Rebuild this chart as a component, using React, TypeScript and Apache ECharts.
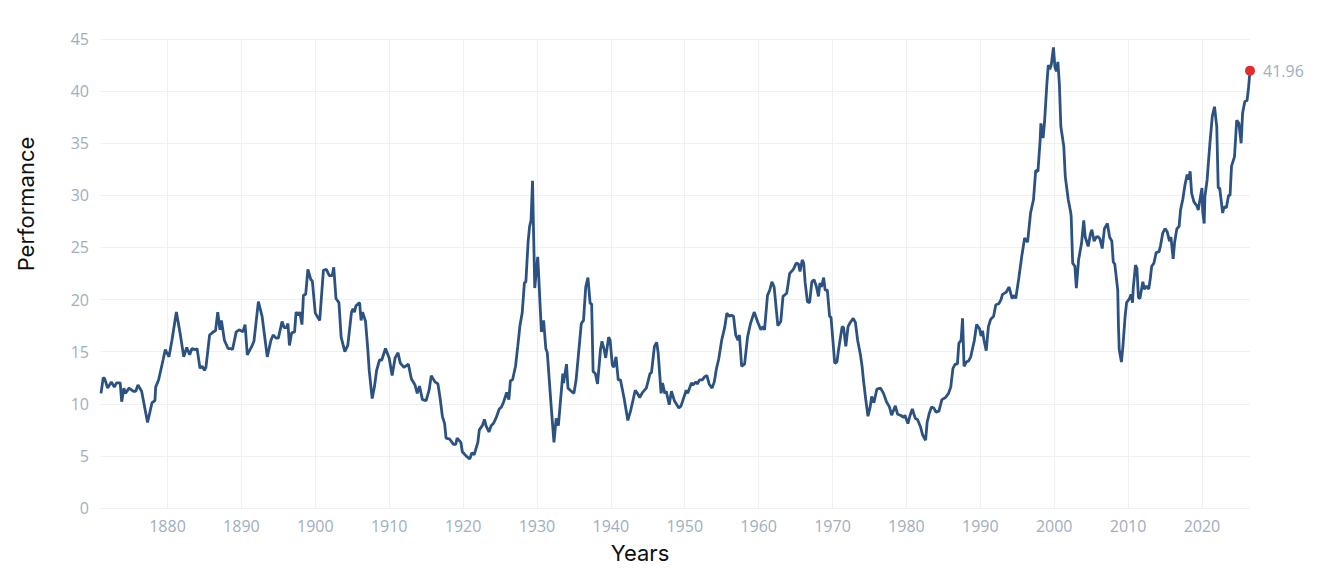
import React, { useEffect, useRef } from "react";
import * as echarts from "echarts";

// Year positions (fractional years) and matching performance values
const years: number[] = [
  1871.0, 1871.3, 1871.5, 1871.9, 1872.4, 1872.8, 1873.1, 1873.6, 1873.8, 1874.1,
  1874.3, 1874.8, 1875.4, 1875.7, 1876.0, 1876.5, 1877.3, 1877.9, 1878.3, 1878.4,
  1878.8, 1879.4, 1879.7, 1880.2, 1880.6, 1881.2, 1881.7, 1882.2, 1882.6, 1883.0,
  1883.3, 1883.8, 1884.0, 1884.4, 1884.7, 1885.0, 1885.2, 1885.7, 1886.2, 1886.5,
  1886.8, 1887.1, 1887.3, 1887.7, 1888.2, 1888.6, 1888.8, 1889.3, 1889.7, 1890.2,
  1890.5, 1890.8, 1891.4, 1891.7, 1892.3, 1892.8, 1893.5, 1894.0, 1894.3, 1894.7,
  1895.0, 1895.5, 1895.8, 1896.1, 1896.3, 1896.5, 1896.8, 1897.2, 1897.4, 1897.7,
  1897.9, 1898.2, 1898.4, 1898.7, 1899.0, 1899.4, 1899.6, 1900.0, 1900.6, 1901.1,
  1901.5, 1901.9, 1902.3, 1902.5, 1902.8, 1903.2, 1903.5, 1904.0, 1904.4, 1904.9,
  1905.1, 1905.3, 1905.5, 1906.0, 1906.2, 1906.4, 1906.8, 1907.1, 1907.3, 1907.7,
  1908.0, 1908.3, 1908.7, 1909.0, 1909.5, 1910.0, 1910.4, 1910.8, 1911.2, 1911.5,
  1912.0, 1912.6, 1913.0, 1913.5, 1913.8, 1914.1, 1914.5, 1915.0, 1915.4, 1915.7,
  1916.2, 1916.6, 1916.9, 1917.2, 1917.5, 1917.7, 1918.2, 1918.7, 1919.0, 1919.2,
  1919.7, 1919.9, 1920.4, 1920.9, 1921.2, 1921.5, 1922.0, 1922.2, 1922.6, 1922.9,
  1923.1, 1923.5, 1923.8, 1924.1, 1924.5, 1924.9, 1925.2, 1925.5, 1925.9, 1926.2,
  1926.4, 1926.7, 1927.1, 1927.4, 1927.7, 1928.0, 1928.3, 1928.5, 1928.8, 1929.0,
  1929.2, 1929.4, 1929.7, 1930.1, 1930.2, 1930.6, 1930.9, 1931.2, 1931.4, 1931.9,
  1932.3, 1932.6, 1932.9, 1933.5, 1933.6, 1934.0, 1934.2, 1934.5, 1935.0, 1935.3,
  1936.0, 1936.3, 1936.6, 1936.9, 1937.2, 1937.4, 1937.6, 1937.9, 1938.2, 1938.6,
  1938.8, 1939.1, 1939.3, 1939.7, 1939.9, 1940.2, 1940.4, 1940.7, 1941.0, 1941.3,
  1941.8, 1942.3, 1942.7, 1943.3, 1943.6, 1943.9, 1944.3, 1944.8, 1945.3, 1945.5,
  1945.9, 1946.2, 1946.4, 1946.8, 1947.0, 1947.3, 1947.5, 1947.9, 1948.2, 1948.6,
  1949.2, 1949.5, 1950.2, 1950.4, 1950.9, 1951.1, 1951.5, 1951.7, 1952.0, 1952.4,
  1952.7, 1953.0, 1953.3, 1953.7, 1954.0, 1954.3, 1954.6, 1955.0, 1955.4, 1955.7,
  1956.0, 1956.3, 1956.6, 1956.9, 1957.2, 1957.4, 1957.7, 1958.1, 1958.5, 1958.9,
  1959.4, 1959.9, 1960.3, 1960.6, 1960.8, 1961.2, 1961.5, 1961.8, 1962.1, 1962.6,
  1963.0, 1963.3, 1963.8, 1964.2, 1964.7, 1965.1, 1965.4, 1965.6, 1965.9, 1966.1,
  1966.3, 1966.6, 1966.9, 1967.2, 1967.5, 1967.8, 1968.1, 1968.3, 1968.5, 1968.8,
  1969.0, 1969.3, 1969.6, 1969.8, 1970.3, 1970.6, 1970.8, 1971.3, 1971.5, 1971.8,
  1972.1, 1972.4, 1972.8, 1973.1, 1973.4, 1973.8, 1974.0, 1974.2, 1974.5, 1974.8,
  1975.1, 1975.3, 1975.6, 1976.0, 1976.5, 1976.9, 1977.3, 1977.7, 1978.0, 1978.5,
  1978.8, 1979.2, 1979.6, 1979.8, 1980.2, 1980.5, 1980.8, 1981.2, 1981.5, 1981.9,
  1982.2, 1982.6, 1982.8, 1983.1, 1983.4, 1983.7, 1984.0, 1984.4, 1984.8, 1985.3,
  1985.7, 1986.0, 1986.3, 1986.6, 1986.9, 1987.1, 1987.4, 1987.6, 1987.8, 1988.1,
  1988.4, 1988.7, 1989.2, 1989.5, 1989.9, 1990.1, 1990.3, 1990.5, 1990.8, 1991.1,
  1991.4, 1991.8, 1992.1, 1992.5, 1992.8, 1993.0, 1993.5, 1993.9, 1994.3, 1994.6,
  1994.8, 1995.2, 1995.6, 1996.0, 1996.4, 1996.8, 1997.2, 1997.5, 1997.8, 1998.1,
  1998.2, 1998.5, 1998.7, 1999.0, 1999.2, 1999.4, 1999.6, 1999.9, 2000.1, 2000.3,
  2000.5, 2000.7, 2000.9, 2001.3, 2001.5, 2001.9, 2002.2, 2002.3, 2002.5, 2002.8,
  2003.0, 2003.3, 2003.7, 2004.0, 2004.2, 2004.6, 2004.9, 2005.1, 2005.4, 2005.7,
  2006.0, 2006.2, 2006.5, 2006.8, 2007.2, 2007.5, 2007.8, 2008.0, 2008.2, 2008.6,
  2008.7, 2008.8, 2009.1, 2009.3, 2009.6, 2009.8, 2010.2, 2010.4, 2010.6, 2010.7,
  2011.0, 2011.2, 2011.4, 2011.6, 2012.0, 2012.2, 2012.5, 2012.8, 2013.0, 2013.2,
  2013.5, 2013.8, 2014.2, 2014.4, 2014.7, 2015.0, 2015.3, 2015.6, 2015.8, 2016.1,
  2016.3, 2016.6, 2016.9, 2017.1, 2017.4, 2017.7, 2018.0, 2018.2, 2018.4, 2018.6,
  2018.9, 2019.3, 2019.5, 2019.8, 2020.0, 2020.1, 2020.3, 2020.4, 2020.7, 2020.9,
  2021.1, 2021.4, 2021.7, 2022.0, 2022.2, 2022.4, 2022.8, 2023.0, 2023.3, 2023.6,
  2023.8, 2024.0, 2024.4, 2024.7, 2025.0, 2025.3, 2025.5, 2025.8, 2026.1, 2026.3,
  2026.5,
];

const performance: number[] = [
  11.0, 12.5, 12.4, 11.5, 12.1, 11.6, 12.0, 12.0, 10.2, 11.5,
  11.0, 11.5, 11.2, 11.2, 11.8, 11.2, 8.2, 10.1, 10.3, 11.6,
  12.3, 14.2, 15.2, 14.5, 16.1, 18.8, 16.8, 14.5, 15.4, 14.7,
  15.3, 15.2, 15.3, 13.4, 13.6, 13.2, 13.5, 16.6, 16.9, 17.0,
  18.8, 17.1, 18.0, 16.1, 15.3, 15.3, 15.2, 16.9, 17.1, 16.9,
  17.6, 14.7, 15.5, 16.0, 19.8, 18.4, 14.5, 16.1, 16.6, 16.3,
  16.3, 17.9, 17.3, 17.3, 17.7, 15.6, 16.8, 16.9, 18.8, 18.5,
  18.8, 17.6, 20.4, 20.5, 22.9, 21.9, 21.8, 18.7, 18.0, 22.8,
  22.9, 22.3, 22.3, 23.1, 20.1, 19.7, 16.4, 15.0, 15.6, 18.8,
  19.1, 18.8, 19.4, 19.7, 18.0, 18.8, 17.9, 15.3, 13.2, 10.5,
  11.6, 13.2, 14.2, 14.2, 15.3, 14.4, 12.7, 14.4, 14.9, 13.9,
  13.5, 13.8, 12.4, 11.8, 11.0, 11.7, 10.4, 10.3, 11.3, 12.7,
  12.1, 11.9, 10.5, 8.8, 8.1, 6.7, 6.6, 6.1, 6.1, 6.7,
  6.3, 5.4, 5.0, 4.7, 5.3, 5.1, 6.3, 7.5, 7.9, 8.5,
  7.9, 7.3, 7.9, 8.1, 8.7, 9.5, 9.7, 10.2, 11.1, 10.4,
  12.2, 12.3, 13.6, 15.5, 17.5, 18.7, 21.6, 21.7, 25.5, 27.0,
  27.6, 31.4, 21.1, 24.1, 22.8, 16.9, 18.0, 15.3, 14.9, 10.0,
  6.3, 8.6, 7.9, 12.9, 12.0, 13.8, 11.5, 11.3, 11.0, 12.3,
  17.7, 18.0, 21.2, 22.1, 19.6, 19.6, 13.1, 12.9, 11.9, 15.2,
  16.0, 15.2, 14.4, 16.4, 16.1, 13.7, 13.5, 14.5, 12.3, 12.3,
  10.5, 8.4, 9.4, 11.3, 11.0, 10.6, 11.1, 11.5, 12.9, 13.0,
  15.5, 15.9, 14.9, 11.0, 12.0, 11.0, 11.2, 9.9, 11.2, 10.3,
  9.6, 9.8, 11.3, 11.0, 12.0, 11.8, 12.1, 11.9, 12.3, 12.3,
  12.6, 12.7, 11.9, 11.5, 12.1, 13.4, 14.3, 16.1, 17.3, 18.7,
  18.4, 18.5, 18.4, 16.6, 16.1, 16.6, 13.6, 13.8, 16.4, 17.7,
  18.8, 17.8, 17.1, 17.4, 17.1, 20.4, 20.9, 21.7, 21.2, 17.5,
  17.9, 20.3, 20.6, 22.5, 22.9, 23.5, 23.4, 22.7, 23.8, 23.5,
  21.6, 19.8, 19.7, 21.7, 21.9, 21.3, 20.3, 21.6, 21.2, 22.1,
  20.9, 20.9, 18.4, 18.3, 13.9, 14.0, 15.1, 17.4, 17.3, 15.5,
  17.4, 17.8, 18.2, 17.8, 16.1, 14.6, 13.6, 12.2, 10.4, 8.8,
  9.7, 10.7, 10.1, 11.4, 11.5, 11.0, 10.2, 9.7, 8.9, 9.8,
  9.0, 8.9, 8.7, 8.9, 8.1, 8.9, 9.5, 8.6, 8.5, 7.8,
  7.0, 6.5, 8.2, 9.1, 9.7, 9.6, 9.2, 9.3, 10.4, 10.6,
  11.0, 11.6, 13.4, 13.8, 13.8, 15.8, 16.1, 18.2, 13.6, 14.0,
  14.1, 14.5, 16.1, 17.6, 17.2, 16.5, 17.0, 16.1, 15.1, 17.4,
  18.1, 18.4, 19.5, 19.6, 20.0, 20.5, 20.7, 21.2, 20.1, 20.4,
  20.1, 22.0, 24.1, 25.9, 25.5, 28.3, 29.6, 32.4, 32.3, 35.3,
  36.9, 35.5, 37.1, 40.6, 42.5, 42.1, 42.5, 44.2, 42.3, 41.9,
  42.8, 40.7, 36.6, 34.7, 31.8, 29.6, 28.5, 28.0, 23.5, 23.2,
  21.1, 23.8, 25.4, 27.6, 26.0, 25.1, 26.3, 26.7, 25.6, 26.0,
  26.0, 25.8, 24.9, 26.8, 27.3, 26.0, 25.6, 23.6, 23.4, 20.9,
  17.4, 15.2, 14.0, 15.5, 18.4, 19.7, 20.1, 20.5, 19.7, 21.1,
  23.3, 23.0, 20.2, 20.1, 21.7, 21.0, 21.3, 21.0, 22.0, 23.2,
  23.5, 24.5, 24.6, 25.2, 26.4, 26.8, 26.5, 25.6, 26.0, 23.9,
  25.5, 26.8, 27.0, 28.6, 29.6, 31.0, 32.0, 31.5, 32.3, 30.2,
  29.4, 29.0, 28.6, 29.9, 30.7, 28.4, 27.3, 29.9, 31.5, 33.4,
  35.2, 37.6, 38.5, 36.6, 30.7, 30.7, 28.3, 28.9, 28.8, 30.0,
  30.0, 32.8, 33.7, 37.2, 36.9, 35.0, 37.9, 39.0, 39.1, 40.3,
  41.96,
];

const xTickYears: number[] = [1880, 1890, 1900, 1910, 1920, 1930, 1940, 1950, 1960, 1970, 1980, 1990, 2000, 2010, 2020];
const yTickValues: number[] = [0, 5, 10, 15, 20, 25, 30, 35, 40, 45];

const xTitle = "Years";
const yTitle = "Performance";

export default function App() {
  const ref = useRef<HTMLDivElement>(null);

  useEffect(() => {
    if (!ref.current) return;
    const chart = echarts.init(ref.current, null, { renderer: "svg" });
    const lineData = years.map((y, i) => [y, performance[i]]);
    const last = lineData[lineData.length - 1];
    const tickFont = "'Open Sans', 'DejaVu Sans', sans-serif";
    const titleFont = "Inter, 'Noto Sans', sans-serif";

    chart.setOption({
      animation: false,
      backgroundColor: "#ffffff",
      grid: { left: 101, right: 68, top: 39, bottom: 69, containLabel: false },
      xAxis: {
        type: "value",
        min: years[0],
        max: years[years.length - 1],
        axisLine: { show: false },
        axisTick: { show: false, customValues: xTickYears },
        axisLabel: {
          customValues: xTickYears,
          formatter: (v: number) => String(Math.round(v)),
          color: "#a0aec0",
          fontSize: 16,
          fontFamily: tickFont,
          margin: 10,
        },
        splitLine: { show: true, lineStyle: { color: "#eef0f3", width: 1 } },
      },
      yAxis: {
        type: "value",
        min: yTickValues[0],
        max: yTickValues[yTickValues.length - 1],
        interval: 5,
        axisLine: { show: false },
        axisTick: { show: false },
        axisLabel: {
          formatter: (v: number) => String(v),
          color: "#a0aec0",
          fontSize: 16,
          fontFamily: tickFont,
          margin: 12,
        },
        splitLine: { show: true, lineStyle: { color: "#eef0f3", width: 1 } },
      },
      graphic: [
        {
          type: "text",
          x: 640,
          y: 553,
          style: {
            text: xTitle,
            font: `22px ${titleFont}`,
            fill: "#111111",
            align: "center",
            verticalAlign: "middle",
            textAlign: "center",
            textVerticalAlign: "middle",
          },
        },
        {
          type: "text",
          x: 26,
          y: 204,
          rotation: Math.PI / 2,
          style: {
            text: yTitle,
            font: `22px ${titleFont}`,
            fill: "#111111",
            align: "center",
            verticalAlign: "middle",
            textAlign: "center",
            textVerticalAlign: "middle",
          },
        },
      ],
      series: [
        {
          type: "line",
          data: lineData,
          showSymbol: false,
          symbol: "none",
          lineStyle: { color: "#2c5282", width: 2.8 },
          z: 2,
        },
        {
          type: "scatter",
          data: [last],
          symbol: "circle",
          symbolSize: 10,
          itemStyle: { color: "#e02d2d", opacity: 1 },
          label: {
            show: true,
            position: "right",
            distance: 8,
            formatter: () => String(last[1].toFixed(2)),
            color: "#a0aec0",
            fontSize: 16,
            fontFamily: tickFont,
          },
          z: 3,
        },
      ],
    });
    return () => chart.dispose();
  }, []);

  return (
    <div
      ref={ref}
      style={{ position: "fixed", left: 0, top: 0, width: 1318, height: 577 }}
    />
  );
}
